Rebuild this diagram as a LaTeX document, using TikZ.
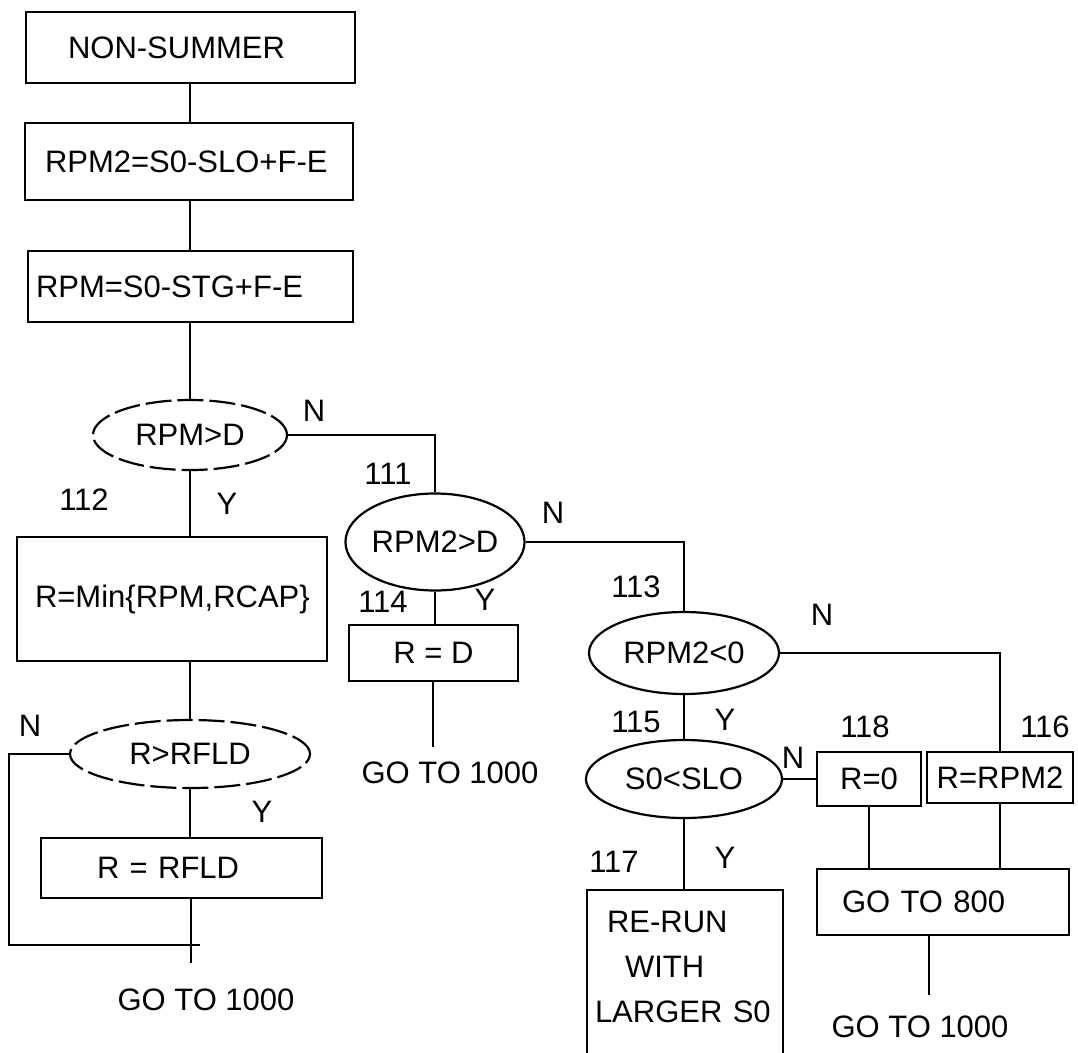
\documentclass[tikz,border=0pt]{standalone}
\usepackage{fontspec}
\setmainfont{Liberation Sans}
\usetikzlibrary{shapes.geometric}
\tikzset{
  every node/.style={font=\fontsize{31}{45}\selectfont},
  bx/.style={draw, line width=2.2pt, rectangle, inner ysep=0pt, align=left},
  cbx/.style={draw, line width=2.2pt, rectangle, inner sep=0pt, align=center},
  dec/.style={draw, line width=2.2pt, ellipse, inner sep=0pt},
  ddec/.style={dec, dash pattern=on 26pt off 6pt},
  lbl/.style={inner sep=0pt},
  conn/.style={line width=2.2pt}
}
\begin{document}
\begin{tikzpicture}[x=1pt,y=-1pt]
\useasboundingbox (0,0) rectangle (1078,1052);
% boxes
\node[bx, inner xsep=42pt, text width=245pt, minimum height=71pt] (b1) at (190.5,47.5) {NON-SUMMER};
\node[bx, inner xsep=20pt, text width=288pt, minimum height=77pt] (b2) at (189,161.5) {RPM2=S0-SLO+F-E};
\node[bx, inner xsep=8pt, text width=309pt, minimum height=71pt] (b3) at (190.5,286.5) {RPM=S0-STG+F-E};
\node[ddec, minimum width=194pt, minimum height=70pt] (e1) at (190,435) {RPM>D};
\node[dec, minimum width=164pt, minimum height=97pt] (e2) at (435,542) {RPM2>D};
\node[bx, inner xsep=18pt, text width=274pt, minimum height=124pt] (b4) at (172,599) {R=Min\{RPM,RCAP\}};
\node[cbx, minimum width=169pt, minimum height=56pt] (b5) at (433.5,653) {R = D};
\node[dec, minimum width=190pt, minimum height=82pt] (e3) at (684,653) {RPM2<0};
\node[dec, minimum width=196pt, minimum height=78pt] (e4) at (684,779) {S0<SLO};
\node[ddec, minimum width=240pt, minimum height=68pt] (e5) at (190,754) {R>RFLD};
\node[bx, inner xsep=56pt, text width=169pt, minimum height=60pt] (b6) at (181.5,868) {R = RFLD};
\node[cbx, minimum width=104pt, minimum height=54pt] (b7) at (869,779) {R=0};
\node[cbx, minimum width=146pt, minimum height=51pt] (b8) at (1000,777.5) {R=RPM2};
\node[bx, inner xsep=25pt, text width=202pt, minimum height=66pt] (b9) at (943,902) {GO TO 800};
\node[bx, inner xsep=8pt, text width=180pt, minimum height=166pt] (b10) at (685,973) {\hspace*{12pt}RE-RUN\\\hspace*{30pt}WITH\\LARGER S0\\[-33pt]\mbox{}};
% labels
\node[lbl] (n1) at (314,411) {N};
\node[lbl] (l111) at (388,474) {111};
\node[lbl] (n2) at (553,513) {N};
\node[lbl] (l112) at (84,500) {112};
\node[lbl] (y1) at (227,504) {Y};
\node[lbl] (l114) at (383,602) {114};
\node[lbl] (y2) at (485,600) {Y};
\node[lbl] (l113) at (636,587) {113};
\node[lbl] (n3) at (822,615) {N};
\node[lbl] (l115) at (636,722) {115};
\node[lbl] (y3) at (725,720) {Y};
\node[lbl] (l118) at (865,727) {118};
\node[lbl] (l116) at (1045,727) {116};
\node[lbl] (n4) at (793,758) {N};
\node[lbl] (l117) at (614,862) {117};
\node[lbl] (y4) at (725,858) {Y};
\node[lbl] (n5) at (30,726) {N};
\node[lbl] (y5) at (262,812) {Y};
\node[lbl] (g1) at (206,1000) {GO TO 1000};
\node[lbl] (g2) at (450,773) {GO TO 1000};
\node[lbl] (g3) at (920,1027) {GO TO 1000};
% free ends
\coordinate (c1) at (191,963);
\coordinate (c2) at (433,747);
\coordinate (c3) at (929,995);
\coordinate (lcorner) at (9,945);
\coordinate (nloop) at (200,945);
% connectors
\draw[conn] (b1.south -| 190,0) -- (190,0 |- b2.north);
\draw[conn] (b2.south -| 190,0) -- (190,0 |- b3.north);
\draw[conn] (b3.south -| e1.north) -- (e1.north);
\draw[conn] (e1.east) -| (e2.north);
\draw[conn] (e1.south) -- (e1.south |- b4.north);
\draw[conn] (e2.east) -| (e3.north);
\draw[conn] (e2.south) -- (e2.south |- b5.north);
\draw[conn] (b5.south -| c2) -- (c2);
\draw[conn] (e5.north |- b4.south) -- (e5.north);
\draw[conn] (e5.south) -- (e5.south |- b6.north);
\draw[conn] (c1 |- b6.south) -- (c1);
\draw[conn] (e5.west) -| (lcorner) -- (nloop);
\draw[conn] (e3.south) -- (e4.north);
\draw[conn] (e3.east) -| (b8.north);
\draw[conn] (e4.east) -- (b7.west);
\draw[conn] (e4.south) -- (e4.south |- b10.north);
\draw[conn] (b7.south) -- (b7.south |- b9.north);
\draw[conn] (b8.south) -- (b8.south |- b9.north);
\draw[conn] (c3 |- b9.south) -- (c3);
\end{tikzpicture}
\end{document}
